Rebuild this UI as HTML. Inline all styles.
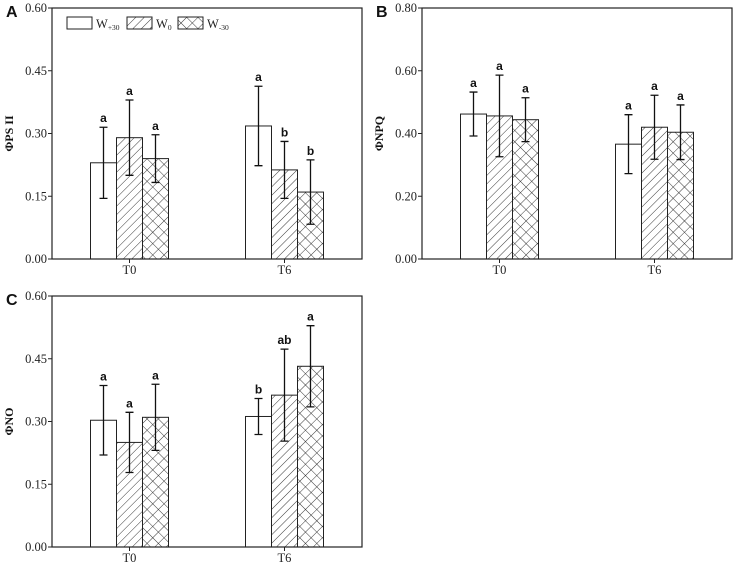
<!DOCTYPE html>
<html><head><meta charset="utf-8"><style>
body{margin:0;background:#fff;}
svg{display:block;}
.tk{font-family:"Liberation Serif",serif;font-size:12.5px;fill:#222;}
.yt{font-family:"Liberation Serif",serif;font-size:12px;font-weight:bold;fill:#111;}
.lt{font-family:"Liberation Sans",sans-serif;font-size:12px;font-weight:bold;fill:#111;}
.pl{font-family:"Liberation Sans",sans-serif;font-size:16px;font-weight:bold;fill:#111;}
</style></head><body>
<svg id="fig" width="735" height="564" viewBox="0 0 735 564" xmlns="http://www.w3.org/2000/svg">
<defs>
<pattern id="diag" patternUnits="userSpaceOnUse" width="6" height="6" patternTransform="rotate(45)"><line x1="0" y1="0" x2="0" y2="6" stroke="#222" stroke-width="0.9"/></pattern>
<pattern id="cross" patternUnits="userSpaceOnUse" width="8" height="8" patternTransform="rotate(45)"><line x1="0" y1="0" x2="0" y2="8" stroke="#222" stroke-width="0.9"/><line x1="0" y1="0" x2="8" y2="0" stroke="#222" stroke-width="0.9"/></pattern>
</defs>
</svg>
<script>
const groups = ["T0","T6"];
const seriesNames = ["W+30","W0","W-30"];
const aMeans = [[0.23,0.29,0.24],[0.318,0.213,0.16]];
const aErr = [[0.085,0.09,0.057],[0.095,0.068,0.077]];
const aLetters = [["a","a","a"],["a","b","b"]];
const aTicks = ["0.00","0.15","0.30","0.45","0.60"];
const bMeans = [[0.462,0.456,0.444],[0.366,0.42,0.404]];
const bErr = [[0.07,0.13,0.07],[0.094,0.102,0.087]];
const bLetters = [["a","a","a"],["a","a","a"]];
const bTicks = ["0.00","0.20","0.40","0.60","0.80"];
const cMeans = [[0.303,0.25,0.31],[0.312,0.363,0.432]];
const cErr = [[0.083,0.072,0.079],[0.043,0.11,0.097]];
const cLetters = [["a","a","a"],["b","ab","a"]];
const cTicks = ["0.00","0.15","0.30","0.45","0.60"];

const svg = document.getElementById('fig');
const NS = "http://www.w3.org/2000/svg";
function mk(tag, attrs, parent){const e=document.createElementNS(NS,tag);for(const k in attrs)e.setAttribute(k,attrs[k]);(parent||svg).appendChild(e);return e;}
const fills=["#fff","url(#diag)","url(#cross)"];

function panel(key,letter,L,T,R,B,ymax,ticks,means,errs,letters,ytitle){
  const g=mk('g',{});
  
  
  const y=v=>B-(v/ymax)*(B-T);
  const bw=26;
  const gc=i=>L+(R-L)*(i===0?0.25:0.75);
  const pl=mk('text',{x:L-46,y:T+9,class:'pl'},g);pl.textContent=letter;
  
  
  ticks.forEach((t,i)=>{
    const v=parseFloat(t);const yy=y(v);
    const ln=mk('line',{x1:L-4,x2:L,y1:yy,y2:yy,stroke:'#222'},g);
    
    
    const tx=mk('text',{x:L-5,y:yy+4,'text-anchor':'end',class:'tk'},g);tx.textContent=t;
    
    
  });
  const yt=mk('text',{x:0,y:0,class:'yt','text-anchor':'middle',transform:`translate(${L-39},${(T+B)/2}) rotate(-90)`},g);yt.textContent=ytitle;
  
  
  groups.forEach((gn,gi)=>{
    const c=gc(gi);
    const xl=mk('text',{x:c,y:B+15,'text-anchor':'middle',class:'tk'},g);xl.textContent=gn;
    
    
    mk('line',{x1:c,x2:c,y1:B,y2:B+4,stroke:'#222'},g);
    means[gi].forEach((m,si)=>{
      const x0=c-bw*1.5+si*bw;
      const r=mk('rect',{x:x0,y:y(m),width:bw,height:B-y(m),fill:fills[si],stroke:'#222','stroke-width':1},g);
      
      
      const xc=x0+bw/2,hi=y(m+errs[gi][si]),lo=y(m-errs[gi][si]);
      const eb=mk('path',{d:`M${xc},${lo}V${hi}M${xc-4},${hi}H${xc+4}M${xc-4},${lo}H${xc+4}`,stroke:'#111','stroke-width':1.3,fill:'none'},g);
      
      
      const lt=mk('text',{x:xc,y:hi-5,'text-anchor':'middle',class:'lt'},g);lt.textContent=letters[gi][si];
      
      
    });
  });
  const fr=mk('rect',{x:L,y:T,width:R-L,height:B-T,fill:'none',stroke:'#222','stroke-width':1.2},g);
  
  
}
panel('a','A',52,8,362,259,0.6,aTicks,aMeans,aErr,aLetters,'ΦPS II');
panel('b','B',422,8,732,259,0.8,bTicks,bMeans,bErr,bLetters,'ΦNPQ');
panel('c','C',52,296,362,547,0.6,cTicks,cMeans,cErr,cLetters,'ΦNO');

// legend
const lg=mk('g',{});


const lx=[67,127,178], subs=["+30","0","-30"];
lx.forEach((x,i)=>{
  const r=mk('rect',{x:x,y:17,width:25,height:12,fill:fills[i],stroke:'#222'},lg);
  
  
  const t=mk('text',{x:x+29,y:28,class:'tk'},lg);
  
  
  t.textContent='W';
  const s=mk('tspan',{'font-size':'7.5',dy:'2'},t);s.textContent=subs[i];
});
</script>
</body></html>
